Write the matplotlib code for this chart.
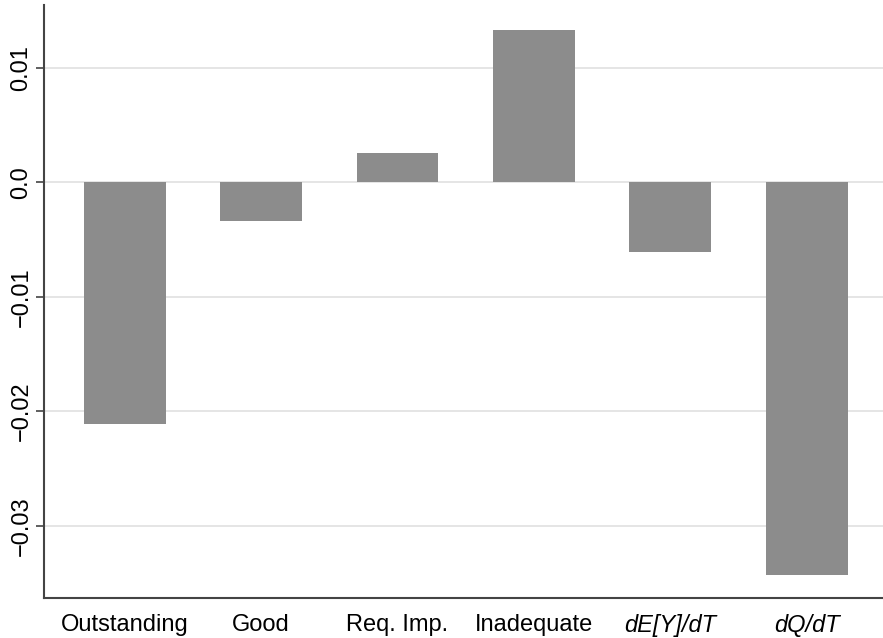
import matplotlib
matplotlib.use("Agg")
import matplotlib.pyplot as plt

plt.rcParams['font.family'] = ['Liberation Sans', 'DejaVu Sans']

# Data
categories = ["Outstanding", "Good", "Req. Imp.", "Inadequate", "dE[Y]/dT", "dQ/dT"]
effects = [-0.0211, -0.0034, 0.0026, 0.0133, -0.0061, -0.0343]
italic_labels = [False, False, False, False, True, True]

y_ticks = [0.01, 0.0, -0.01, -0.02, -0.03]
y_labels = ["0.01", "0.0", "\u22120.01", "\u22120.02", "\u22120.03"]

fig = plt.figure(figsize=(8.83, 6.38), dpi=100)
ax = fig.add_axes([0.05, 0.063, 0.95, 0.929])

xs = list(range(len(categories)))
ax.bar(xs, effects, width=0.6, color="#8c8c8c", zorder=2)

ax.set_xlim(-0.59, 5.56)
ax.set_ylim(-0.0363, 0.0155)

ax.set_yticks(y_ticks)
ax.set_yticklabels(y_labels, rotation=90, va="center", fontsize=17)
ax.set_xticks(xs)
ax.set_xticklabels(categories, fontsize=17)
for lbl, it in zip(ax.get_xticklabels(), italic_labels):
    if it:
        lbl.set_fontstyle("italic")

ax.tick_params(axis="x", length=0, pad=12)
ax.tick_params(axis="y", length=6, width=1.2, color="#444444", pad=2.5)

ax.yaxis.grid(True, color="#e0e0e0", linewidth=1.2, zorder=0)
ax.set_axisbelow(True)

for side in ["top", "right"]:
    ax.spines[side].set_visible(False)
for side in ["left", "bottom"]:
    ax.spines[side].set_color("#444444")
    ax.spines[side].set_linewidth(1.5)

fig.savefig("out.png", dpi=100)
